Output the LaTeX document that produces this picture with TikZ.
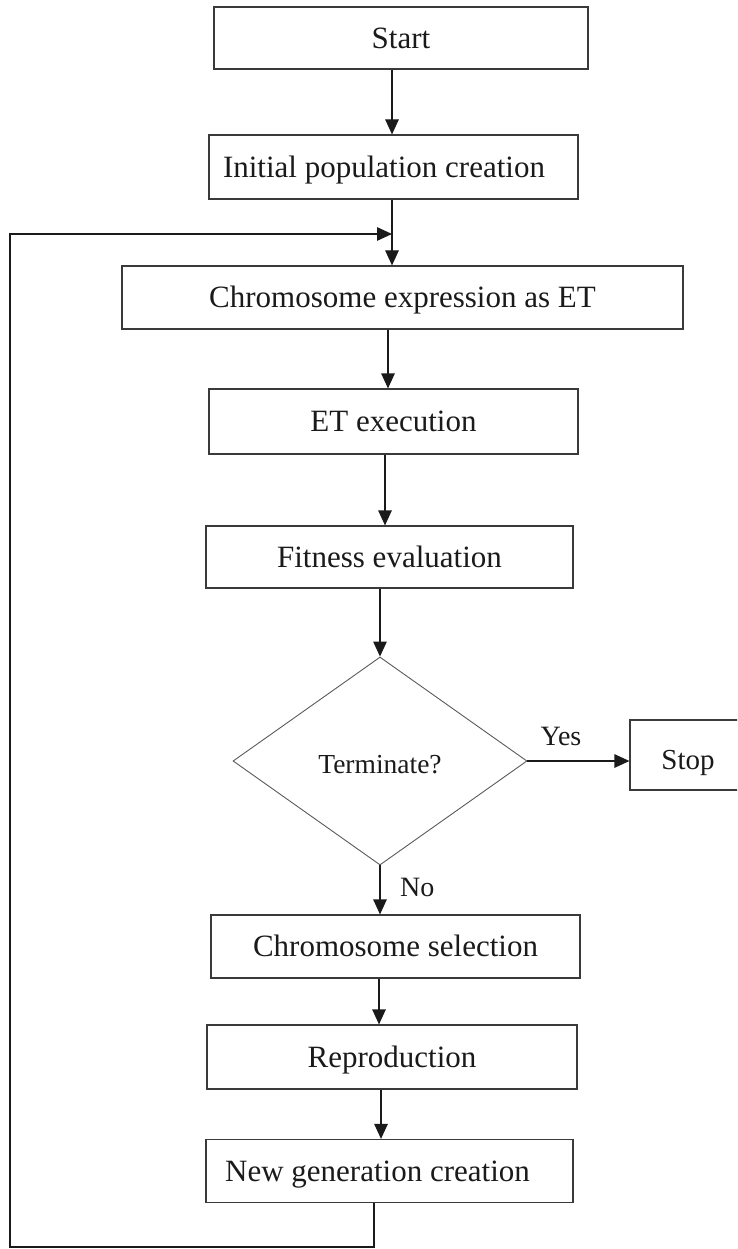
\documentclass[tikz,border=0pt]{standalone}
\usepackage{fontspec}
\setmainfont{Liberation Serif}
\usetikzlibrary{arrows.meta,shapes.geometric}
\definecolor{ink}{HTML}{1A1A1A}
\definecolor{frame}{HTML}{3A3A3A}
\definecolor{rhomb}{HTML}{5A5A5A}
\begin{document}
\begin{tikzpicture}[x=1pt,y=-1pt,
  % rectangular process step, text centred on its capitals
  box/.style={draw=frame, line width=1.2pt, inner sep=0pt, text=ink,
    font=\fontsize{31}{36}\selectfont, text height=20.5pt, text depth=0pt},
  % text placed inside a frame by hand
  lbl/.style={text=ink, inner sep=0pt, font=\fontsize{31}{36}\selectfont,
    text height=20.5pt, text depth=0pt},
  decision/.style={shape=diamond, draw=rhomb, line width=0.9pt, inner sep=0pt},
  tag/.style={text=ink, inner sep=0pt, font=\fontsize{28}{32}\selectfont,
    text height=18.5pt, text depth=0pt},
  flow/.style={draw=ink, line width=1.2pt, -{Triangle[length=15pt,width=13.5pt]}},
]
\useasboundingbox (0,0) rectangle (737,1249);
\clip (0,0) rectangle (737,1249);

% process steps
\node[box, minimum width=374pt, minimum height=62pt] (start) at (401,38) {Start};
\node[box, minimum width=369pt, minimum height=64pt] (init) at (393.5,167) {};
\node[lbl] at ([xshift=-9.5pt]init.center) {Initial population creation};
\node[box, minimum width=561pt, minimum height=63pt] (expr) at (402.5,297.5) {Chromosome expression as ET};
\node[box, minimum width=369pt, minimum height=65pt] (exec) at (393.5,421.5) {ET execution};
\node[box, minimum width=367pt, minimum height=62pt] (fit) at (389.5,557) {Fitness evaluation};
\node[decision, minimum width=294pt, minimum height=208pt] (term) at (380,761) {};
\node[lbl, font=\fontsize{27.5}{32}\selectfont, text height=18.2pt] at ([yshift=-3.5pt]term.center) {Terminate?};
\node[box, minimum width=116pt, minimum height=70pt] (stop) at (688,755) {};
\node[lbl, font=\fontsize{29}{34}\selectfont, text height=19.2pt] at ([yshift=-4.5pt]stop.center) {Stop};
\node[box, minimum width=369pt, minimum height=63pt] (sel) at (395.5,946.5) {Chromosome selection};
\node[box, minimum width=370pt, minimum height=64pt] (rep) at (392,1057) {Reproduction};
\node[box, minimum width=367pt, minimum height=63pt] (gen) at (389.5,1171) {};
\node[lbl] at ([xshift=-12pt]gen.center) {New generation creation};

% columns of the vertical connectors
\coordinate (c1) at (392,0);
\coordinate (c2) at (388,0);
\coordinate (c3) at (385,0);
\coordinate (c6) at (379,0);
\coordinate (c7) at (381,0);
% corners of the feedback loop
\coordinate (loopR) at (374,1247);
\coordinate (loopL) at (10,1247);
\coordinate (loopT) at (10,234);

\draw[flow] (start.south -| c1) -- (init.north -| c1);
\draw[flow] (init.south -| c1) -- (expr.north -| c1);
\draw[flow] (expr.south -| c2) -- (exec.north -| c2);
\draw[flow] (exec.south -| c3) -- (fit.north -| c3);
\draw[flow] (fit.south -| term.north) -- (term.north);
\draw[flow] (term.east) -- (stop.west |- term.east);
\draw[flow] (term.south) -- (sel.north -| term.south);
\draw[flow] (sel.south -| c6) -- (rep.north -| c6);
\draw[flow] (rep.south -| c7) -- (gen.north -| c7);
\draw[flow] (gen.south -| loopR) -- (loopR) -- (loopL) -- (loopT) -- (loopT -| c1);

% branch labels
\node[tag] at (561,736.5) {Yes};
\node[tag, anchor=west] at (400,887) {No};
\end{tikzpicture}
\end{document}
